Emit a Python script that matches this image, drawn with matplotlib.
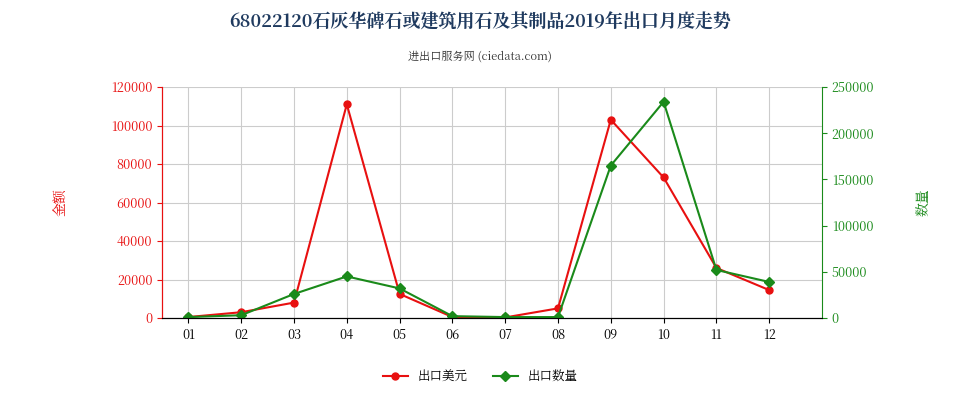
import matplotlib
matplotlib.use("Agg")
import matplotlib.pyplot as plt
from matplotlib import font_manager as fm

cjk = None
for f in fm.findSystemFonts():
    if 'CJK' in f or 'cjk' in f.lower():
        try:
            fm.fontManager.addfont(f)
        except Exception:
            pass
        if cjk is None:
            cjk = fm.FontProperties(fname=f).get_name()
fams = [n for n in ['Noto Sans CJK SC', cjk] if n] + ['DejaVu Sans']
plt.rcParams['font.family'] = 'sans-serif'
plt.rcParams['font.sans-serif'] = fams

months = ['01','02','03','04','05','06','07','08','09','10','11','12']
usd = [500, 3000, 8000, 111000, 12500, 500, 300, 5000, 103000, 73000, 26000, 14500]
qty = [1000, 3000, 26000, 45000, 32000, 2000, 1000, 1000, 165000, 234000, 52000, 39000]

fig = plt.figure(figsize=(9.6, 4.0), dpi=100)
ax = fig.add_axes([162/960, 82/400, 660/960, 231/400])
ax2 = ax.twinx()
x = list(range(len(months)))
ax.plot(x, usd, color='#e81010', marker='o', markersize=5, lw=1.5, label='出口美元')
ax2.plot(x, qty, color='#1a8a1a', marker='D', markersize=5, lw=1.5, label='出口数量')
ax.set_xlim(-0.5, 12)
ax.set_ylim(0, 120000)
ax2.set_ylim(0, 250000)
ax.set_xticks(x)
ax.set_xticklabels(months, fontsize=9)
ax.set_yticks(range(0, 120001, 20000))
ax2.set_yticks(range(0, 250001, 50000))
ax.tick_params(axis='y', colors='#e81010', labelsize=9)
ax2.tick_params(axis='y', colors='#1a8a1a', labelsize=9)
ax.grid(True, color='#cccccc', lw=0.8)
ax.set_axisbelow(True)
ax.spines['top'].set_visible(False); ax2.spines['top'].set_visible(False)
ax.spines['left'].set_color('#e81010')
ax2.spines['left'].set_color('#e81010')
ax2.spines['right'].set_color('#1a8a1a')
ax.spines['right'].set_visible(False)
ax.set_ylabel('金额', color='#e81010', fontsize=10, labelpad=30)
ax2.set_ylabel('数量', color='#1a8a1a', fontsize=10, labelpad=30)
fig.text(0.5, 0.945, '68022120石灰华碑石或建筑用石及其制品2019年出口月度走势', ha='center', va='center', fontsize=13, fontweight='bold', color='#1f3a5f')
fig.text(0.5, 0.86, '进出口服务网 (ciedata.com)', ha='center', va='center', fontsize=8, color='#333333')
h1, l1 = ax.get_legend_handles_labels()
h2, l2 = ax2.get_legend_handles_labels()
fig.legend(h1 + h2, l1 + l2, loc='center', bbox_to_anchor=(0.5, 0.06), ncol=2, frameon=False, fontsize=9)
fig.savefig('out.png', dpi=100)
